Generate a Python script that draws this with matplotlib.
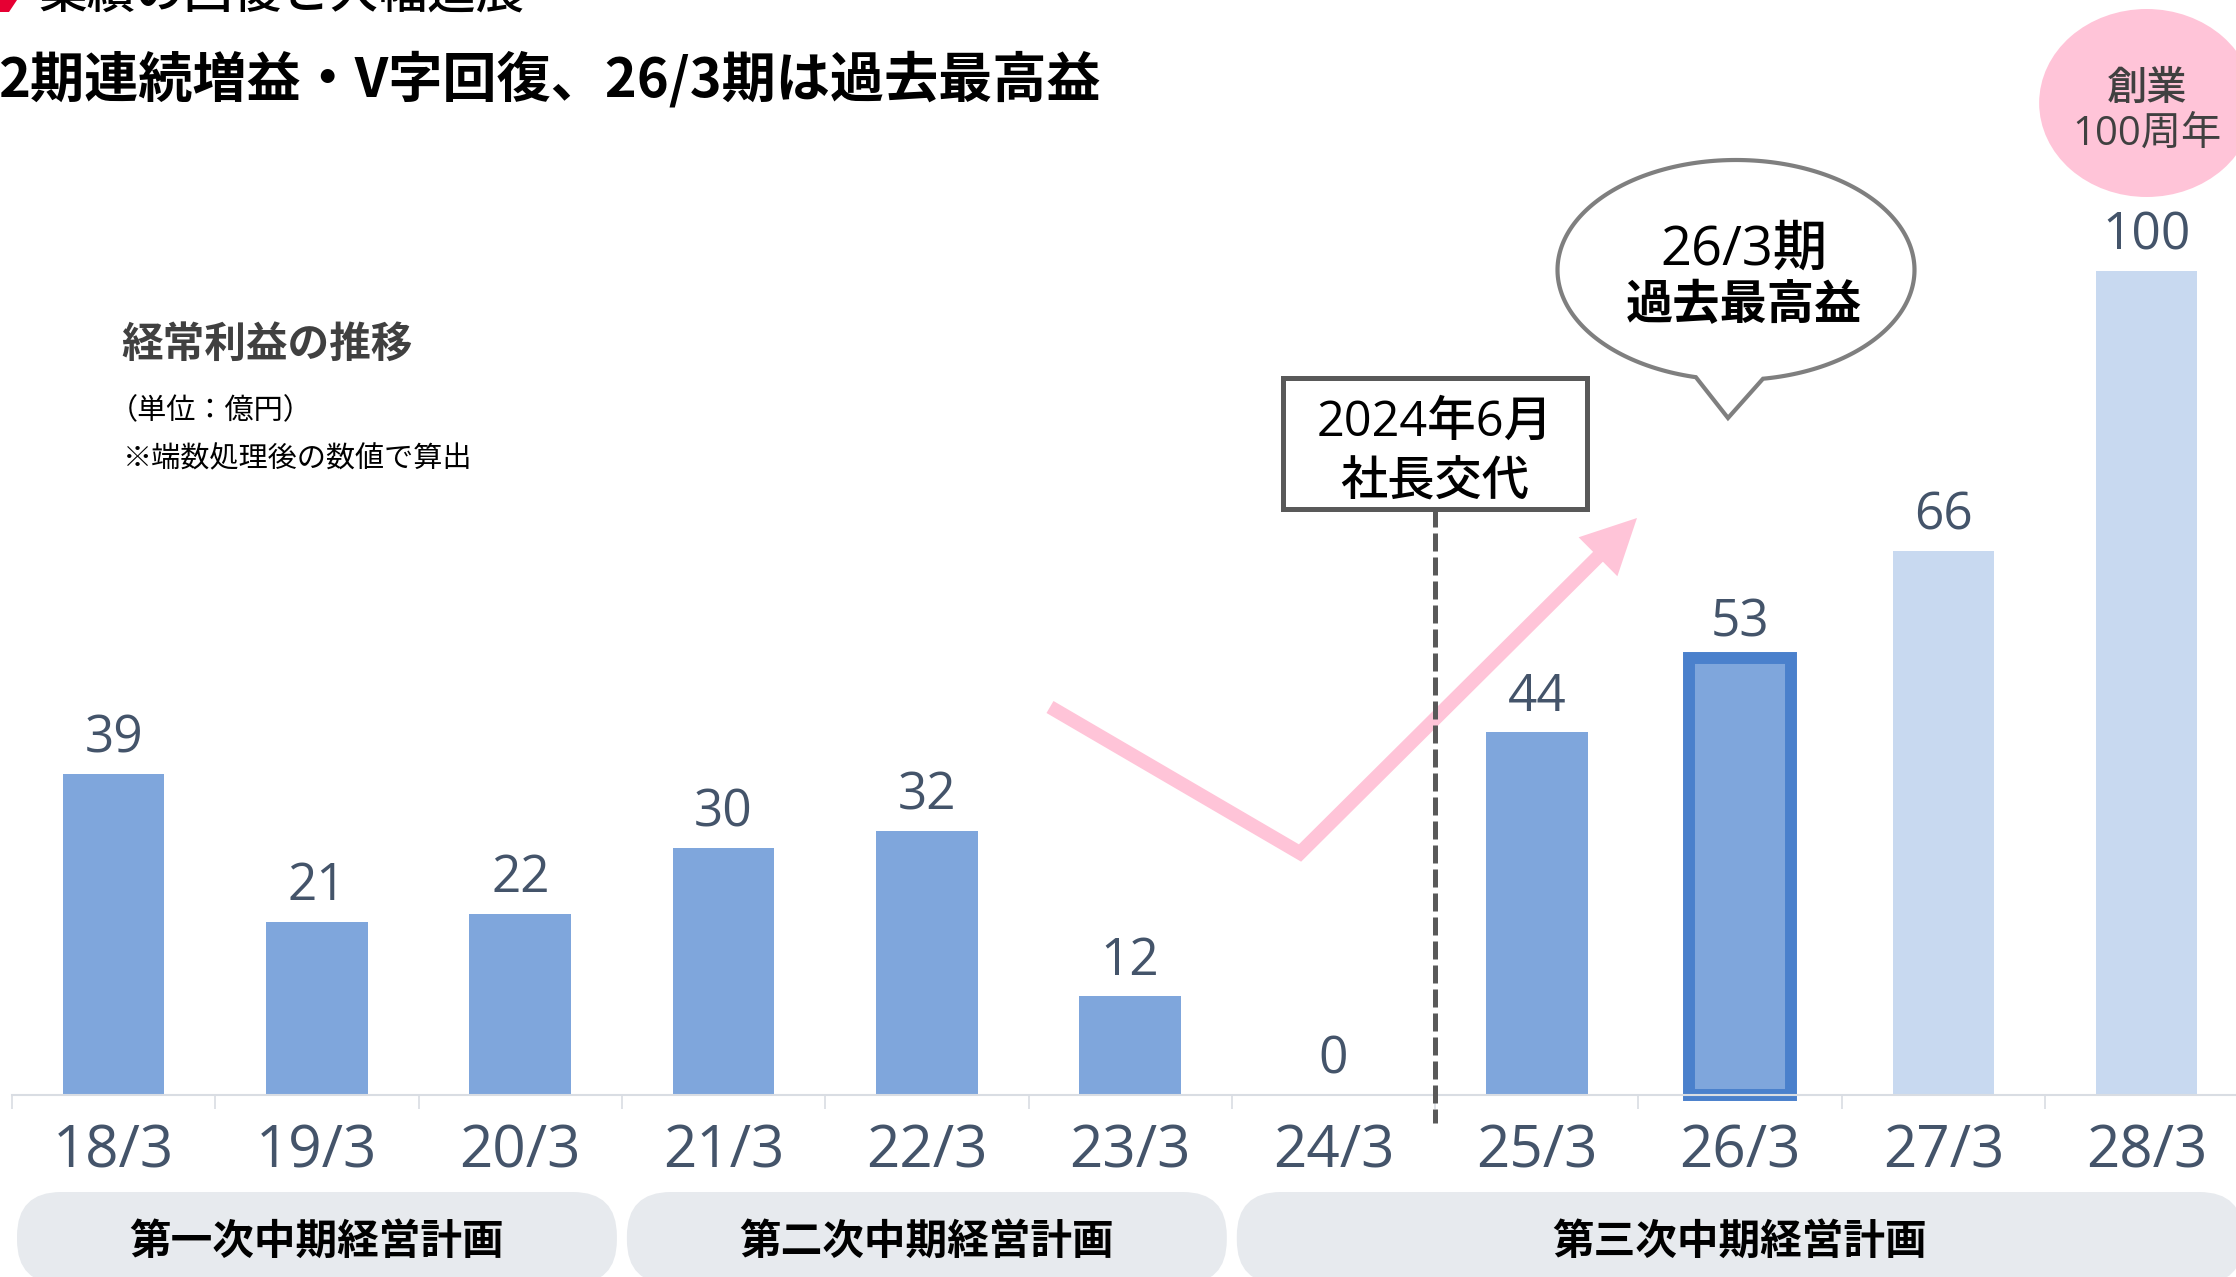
import numpy as np
import matplotlib.pyplot as plt
from matplotlib.patches import Ellipse, Polygon, Rectangle, FancyBboxPatch

plt.rcParams['font.family'] = ['Noto Sans CJK JP', 'DejaVu Sans']
NUMFONT = ['Open Sans', 'Noto Sans CJK JP']

W, H = 2236, 1277

# data
periods = ['18/3', '19/3', '20/3', '21/3', '22/3', '23/3', '24/3', '25/3', '26/3', '27/3', '28/3']
profit = [39, 21, 22, 30, 32, 12, 0, 44, 53, 66, 100]
is_plan = [False, False, False, False, False, False, False, False, False, True, True]
record_period = '26/3'
plans = ['第一次中期経営計画', '第二次中期経営計画', '第三次中期経営計画']
plan_first = ['18/3', '21/3', '24/3']
plan_last = ['20/3', '23/3', '28/3']

BAR = '#7FA6DC'
BAR_PLAN = '#C8D9F0'
EDGE = '#4A80CC'
NUM = '#44546A'
PINK = '#FFC4D8'
GRAY = '#595959'

fig = plt.figure(figsize=(W / 100, H / 100), dpi=100)
step = 203.3      # px per category
base = 1095       # px of baseline from top
ppu = 8.24        # px per 1 億円
ax = fig.add_axes([12 / W, (H - base) / H, 11 * step / W, base / H])
ax.set_xlim(-0.5, 10.5)
ax.set_ylim(0, base / ppu)

x = np.arange(len(periods))
colors = [BAR_PLAN if p else BAR for p in is_plan]
bars = ax.bar(x, profit, width=0.5, color=colors, zorder=2)
rec = bars[periods.index(record_period)]
rec.set_edgecolor(EDGE)
rec.set_linewidth(8.6)
rec.set_clip_on(False)

for xi, v in zip(x, profit):
    ax.annotate(str(v), (xi, v), xytext=(0, 15.5), textcoords='offset points',
                ha='center', va='baseline', fontsize=37, color=NUM, family=NUMFONT)

for s in ['top', 'left', 'right']:
    ax.spines[s].set_visible(False)
ax.spines['bottom'].set_color('#D9DDE3')
ax.spines['bottom'].set_linewidth(1.5)
ax.set_yticks([])
ax.set_xticks(x, periods, fontsize=42, color=NUM, family=NUMFONT, weight='medium')
for t in ax.get_xticklabels():
    t.set_va('baseline')
ax.tick_params(axis='x', which='major', length=0, pad=52)
ax.set_xticks(np.arange(-0.5, 11, 1), minor=True)
ax.tick_params(axis='x', which='minor', length=10, width=1.2, color='#D9DDE3')


def px(xd, yd=0):
    X, Y = ax.transData.transform((xd, yd))
    return X, H - Y


# overlay in pixel coordinates for the decorations
ov = fig.add_axes([0, 0, 1, 1], zorder=3)
ov.set_xlim(0, W)
ov.set_ylim(H, 0)
ov.axis('off')
ov.patch.set_visible(False)


def ptext(xp, cy, s, size, **kw):
    # place text by the visual centre of its glyphs
    ov.text(xp, cy + 0.37 * size * 100 / 72, s, fontsize=size, va='baseline', **kw)


# header and titles
ov.add_patch(Polygon([(0, 0), (17, 0), (9, 12), (0, 12)], color='#E60033', lw=0))
ov.text(38, 8, '業績の回復と大幅進展', fontsize=35, va='baseline', weight='medium')
ptext(-2, 76, '2期連続増益・V字回復、26/3期は過去最高益', 39, weight='bold')
ptext(121, 341, '経常利益の推移', 30, color='#404040', weight='bold')
ptext(109, 408, '（単位：億円）', 21)
ptext(123, 457, '※端数処理後の数値で算出', 21)

# plan pills
for name, a, b in zip(plans, plan_first, plan_last):
    x0 = px(periods.index(a) - 0.5)[0] + 5
    x1 = px(periods.index(b) + 0.5)[0] - 5
    ov.add_patch(FancyBboxPatch((x0, 1192), x1 - x0, 92,
                                boxstyle='round,pad=0,rounding_size=44',
                                fc='#E7EAEE', ec='none'))
    ptext((x0 + x1) / 2, 1238, name, 30, weight='bold', ha='center')

# pink V arrow
start, vertex, tip = np.array([1050, 707]), np.array([1300, 853]), np.array([1637, 518])
d = (tip - vertex) / np.linalg.norm(tip - vertex)
n = np.array([d[1], -d[0]])
head_base = tip - 55 * d
ov.plot([start[0], vertex[0], head_base[0] + 2 * d[0]],
        [start[1], vertex[1], head_base[1] + 2 * d[1]],
        color=PINK, lw=10, solid_joinstyle='miter', solid_capstyle='butt', zorder=1)
ov.add_patch(Polygon([tip, head_base + 27.5 * n, head_base - 27.5 * n],
                     color=PINK, lw=0, zorder=1))

# president change marker
line_x = px(6.5)[0]
ov.plot([line_x, line_x], [509, px(0, -3.4)[1]], color=GRAY, lw=3.6,
        dashes=(3.6, 1.2), zorder=2)
ov.add_patch(Rectangle((line_x - 152, 378), 304, 131, fc='white', ec=GRAY, lw=3.6, zorder=4))
ptext(line_x, 418, '2024年6月', 35, ha='center', family=NUMFONT, weight='medium', zorder=5)
ptext(line_x, 478, '社長交代', 34, ha='center', weight='medium', zorder=5)

# speech bubble
cx, cy, ea, eb = 1736, 270, 178.5, 110
ang = np.radians(np.linspace(103, 441.3, 240))
pts = np.column_stack([cx + ea * np.cos(ang), cy + eb * np.sin(ang)])
pts = np.vstack([pts, [1728, 418]])
ov.add_patch(Polygon(pts, closed=True, fc='white', ec='#7F7F7F', lw=3, joinstyle='miter', zorder=4))
ptext(1744, 245, '26/3期', 39, ha='center', weight='medium', family=NUMFONT, zorder=5)
ptext(1744, 302, '過去最高益', 34, ha='center', weight='bold', zorder=5)

# centenary badge
cxb = px(10)[0]
ov.add_patch(Ellipse((cxb, 103), 215, 188, fc=PINK, ec='none'))
ptext(cxb, 85, '創業', 29, ha='center', color='#404040', weight='medium')
ptext(cxb, 130, '100周年', 29, ha='center', color='#404040', family=NUMFONT)

fig.savefig('out.png', dpi=100)
